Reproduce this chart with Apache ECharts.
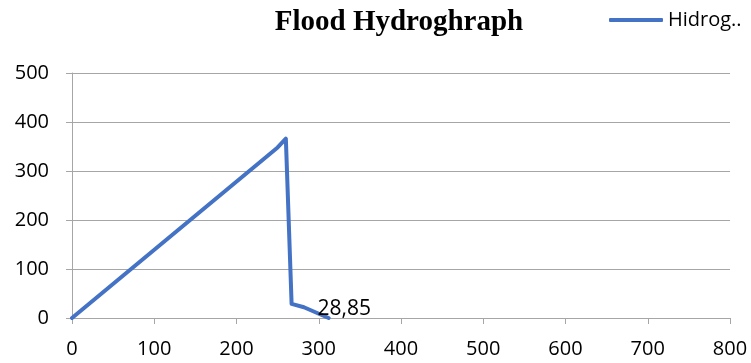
<!DOCTYPE html>
<html>
<head>
<meta charset="utf-8">
<script src="https://cdn.jsdelivr.net/npm/echarts@6/dist/echarts.min.js"></script>
<style>
  html, body { margin: 0; padding: 0; background: #fff; }
  #chart { width: 751px; height: 363px; }
</style>
</head>
<body>
<div id="chart"></div>
<script>
// hydrograph points
const timeValues = [0, 250, 260, 267, 282, 312]
const flowValues = [0, 348, 366, 28.85, 22, 0]
const labelledIndex = 3
const xTicks = [0, 100, 200, 300, 400, 500, 600, 700, 800]
const yTicks = [0, 100, 200, 300, 400, 500]

const lineColor = '#4472c4'
const font = 'Open Sans'

const seriesData = timeValues.map((t, i) => {
    const item = { value: [t, flowValues[i]] }
    if (i === labelledIndex) {
        item.label = {
            show: true,
            position: 'right',
            offset: [20, 5],
            fontFamily: font,
            fontSize: 21,
            color: '#000',
            formatter: (p) => String(p.value[1]).replace('.', ',')
        }
    }
    return item
})

const chart = echarts.init(document.getElementById('chart'))
chart.setOption({
    animation: false,
    backgroundColor: '#fff',
    title: {
        text: 'Flood Hydroghraph',
        left: 394,
        top: 3,
        textAlign: 'center',
        textStyle: {
            fontFamily: 'Liberation Serif',
            fontWeight: 'bold',
            fontSize: 29,
            color: '#000'
        }
    },
    legend: {
        left: 604,
        top: 5,
        itemWidth: 54,
        itemHeight: 4,
        itemGap: 6,
        icon: 'roundRect',
        data: [{ name: 'Hidrog..', itemStyle: { color: lineColor } }],
        textStyle: { fontFamily: font, fontSize: 20, color: '#000' }
    },
    grid: { left: 72, right: 21, top: 73, bottom: 45 },
    xAxis: {
        type: 'value',
        min: xTicks[0],
        max: xTicks[xTicks.length - 1],
        interval: xTicks[1] - xTicks[0],
        axisLine: { show: true, lineStyle: { color: '#a6a6a6', width: 1 } },
        axisTick: { show: true, length: 6, lineStyle: { color: '#a6a6a6' } },
        splitLine: { show: false },
        axisLabel: { fontFamily: font, fontSize: 20, color: '#000', margin: 21 }
    },
    yAxis: {
        type: 'value',
        min: yTicks[0],
        max: yTicks[yTicks.length - 1],
        interval: yTicks[1] - yTicks[0],
        axisLine: { show: true, lineStyle: { color: '#a6a6a6', width: 1 } },
        axisTick: { show: true, length: 6, lineStyle: { color: '#a6a6a6' } },
        splitLine: { show: true, lineStyle: { color: '#a6a6a6', width: 1 } },
        axisLabel: { fontFamily: font, fontSize: 20, color: '#000', margin: 23 }
    },
    series: [
        {
            name: 'Hidrog..',
            type: 'line',
            data: seriesData,
            showSymbol: true,
            symbol: 'circle',
            symbolSize: 2,
            itemStyle: { color: lineColor },
            lineStyle: { color: lineColor, width: 4, join: 'round', cap: 'round' }
        }
    ]
})
</script>
</body>
</html>
